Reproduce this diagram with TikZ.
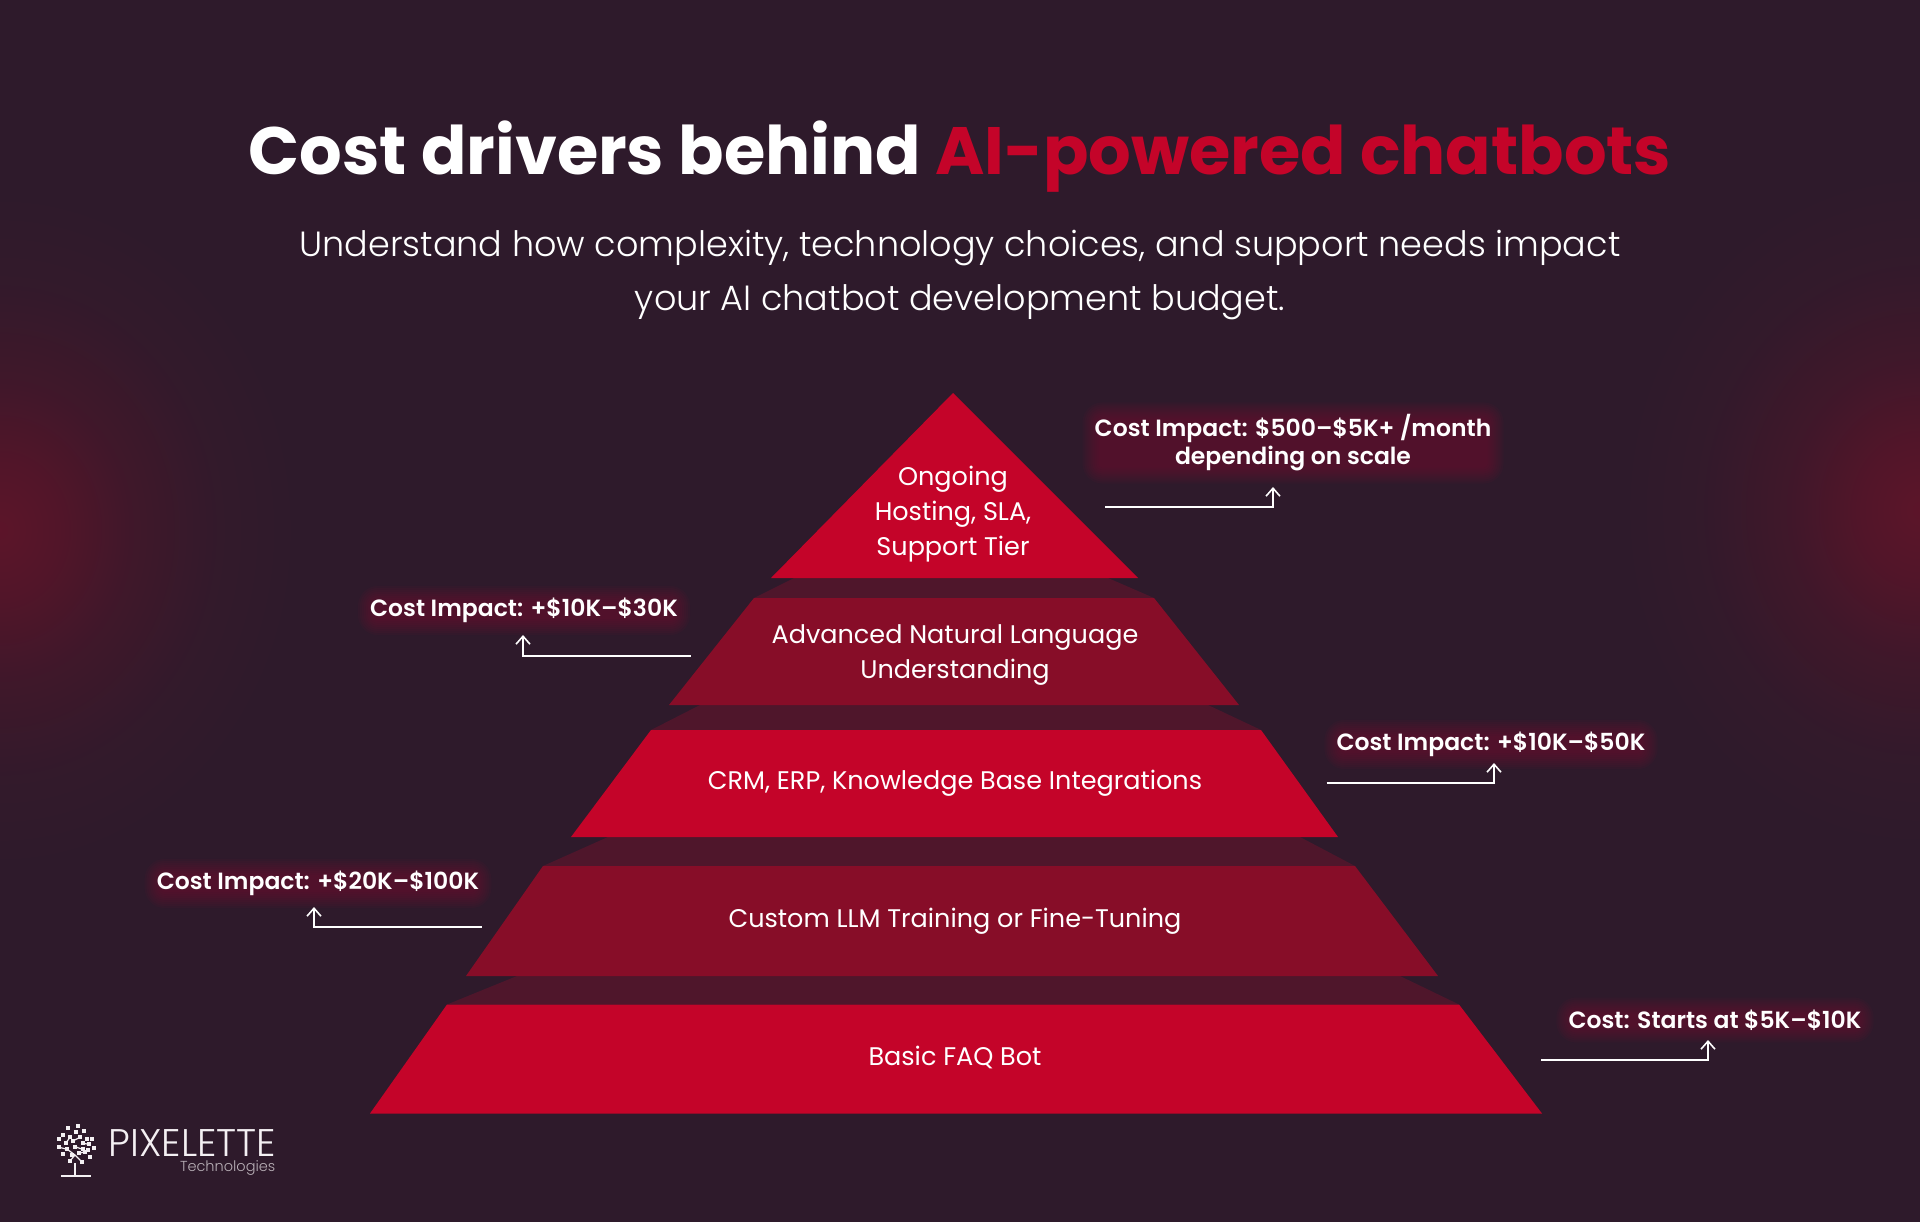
\documentclass[tikz,border=0pt]{standalone}
\usepackage{fontspec}
\setmainfont{Poppins}
\newfontfamily\plight{Poppins Light}
\newfontfamily\psemi{Poppins SemiBold}
\usetikzlibrary{arrows.meta}
\definecolor{bgc}{HTML}{2E1A2B}
\definecolor{tierhi}{HTML}{C40429}
\definecolor{tierlo}{HTML}{870D28}
\definecolor{bandc}{HTML}{4F162B}
\definecolor{glowc}{HTML}{7A0F2E}
\definecolor{logoc}{HTML}{F4F0F3}
\pgfdeclareradialshading{sideglow}{\pgfpoint{0bp}{0bp}}{
  rgb(0bp)=(0.36,0.08,0.16);
  rgb(5bp)=(0.32,0.083,0.16);
  rgb(11bp)=(0.25,0.092,0.165);
  rgb(18bp)=(0.2,0.1,0.168);
  rgb(25bp)=(0.18,0.102,0.169);
  rgb(50bp)=(0.18,0.102,0.169)}
\pgfdeclarelayer{front}
\pgfsetlayers{main,front}
\tikzset{
  tierA/.style={fill=tierhi},
  tierB/.style={fill=tierlo},
  bandS/.style={fill=bandc},
  tiertext/.style={text=white,align=center,inner sep=0pt,font=\fontsize{25.5}{35}\selectfont},
  costtext/.style={text=white,align=center,inner sep=0pt,font=\fontsize{23.5}{28}\psemi},
  conn/.style={draw=white,line width=2pt,-{Straight Barb[length=8pt,width=14pt,line width=1.6pt]}},
}
\newcommand{\glowaround}[1]{%
  \foreach \g in {-4,-2,...,12}{%
    \fill[glowc,opacity=.075,rounded corners=8pt+\g pt]
      ([shift={(-\g,-\g)}]#1.north west) rectangle ([shift={(\g,\g)}]#1.south east);}}
\begin{document}
\begin{tikzpicture}[x=1pt,y=-1pt]
\useasboundingbox (0,0) rectangle (1920,1222);
\fill[bgc] (0,0) rectangle (1920,1222);
\begin{scope}
\clip (0,0) rectangle (1920,1222);
\fill[shading=sideglow] (-300,190) rectangle (300,870);
\fill[shading=sideglow] (1620,170) rectangle (2220,850);
\end{scope}
% shadow bands
\fill[bandS] (794,578) -- (1108,578) -- (1154,598) -- (754,598) -- cycle;
\fill[bandS] (700,705) -- (1208,705) -- (1261,730) -- (651,730) -- cycle;
\fill[bandS] (608,837) -- (1300,837) -- (1355,866) -- (543,866) -- cycle;
\fill[bandS] (517,976) -- (1400,976) -- (1459,1004.5) -- (447,1004.5) -- cycle;
% tiers
\fill[tierA] (953,393) -- (1138,578) -- (771,578) -- cycle;
\fill[tierB] (754,598) -- (1154,598) -- (1239,705) -- (669,705) -- cycle;
\fill[tierA] (651,730) -- (1261,730) -- (1338,837) -- (571,837) -- cycle;
\fill[tierB] (543,866) -- (1355,866) -- (1438,976) -- (466,976) -- cycle;
\fill[tierA] (447,1004.5) -- (1459,1004.5) -- (1542,1113.5) -- (370,1113.5) -- cycle;
\begin{pgfonlayer}{front}
% title
\node[anchor=center,inner sep=0pt,font=\fontsize{67}{75}\selectfont\bfseries,text=white] (title) at (960,157)
  {Cost drivers behind \textcolor{tierhi}{AI-powered chatbots}};
\node[anchor=center,inner sep=0pt,align=center,text=white,font=\fontsize{35}{54}\plight] (subtitle) at (960,275)
  {Understand how complexity, technology choices, and support needs impact\\your AI chatbot development budget.};
% tier labels
\node[tiertext] (t1) at (953,514.5) {Ongoing\\Hosting, SLA,\\Support Tier};
\node[tiertext] (t2) at (955,655) {Advanced Natural Language\\Understanding};
\node[tiertext] (t3) at (955,783.5) {CRM, ERP, Knowledge Base Integrations};
\node[tiertext] (t4) at (955,921) {Custom LLM Training or Fine-Tuning};
\node[tiertext] (t5) at (955,1057) {Basic FAQ Bot};
% cost labels
\node[costtext] (c1) at (1293,443) {Cost Impact: \$500–\$5K+ /month\\depending on scale};
\node[costtext] (c2) at (524,610.5) {Cost Impact: +\$10K–\$30K};
\node[costtext] (c3) at (1491,744.5) {Cost Impact: +\$10K–\$50K};
\node[costtext] (c4) at (318,883.5) {Cost Impact: +\$20K–\$100K};
\node[costtext] (c5) at (1715,1020) {Cost: Starts at \$5K–\$10K};
% logo text
\node[anchor=east,inner sep=0pt,text=logoc,font=\fontsize{38.5}{40}\plight] (brand) at (276.5,1143.5) {PIXELETTE};
\node[anchor=east,inner sep=0pt,text=logoc!70!bgc,font=\fontsize{14.5}{16}\plight] (brandsub) at (275.5,1167.5) {Technologies};
\end{pgfonlayer}
% label glows
\glowaround{c1}\glowaround{c2}\glowaround{c3}\glowaround{c4}\glowaround{c5}
% connectors
\coordinate (a1) at (1105,506.5); \coordinate (b1) at (1273,506.5); \coordinate (e1) at (1273,487);
\coordinate (a2) at (690.5,655.5); \coordinate (b2) at (523,655.5); \coordinate (e2) at (523,635);
\coordinate (a3) at (1326.5,782.5); \coordinate (b3) at (1494,782.5); \coordinate (e3) at (1494,763);
\coordinate (a4) at (481.5,927); \coordinate (b4) at (314,927); \coordinate (e4) at (314,907);
\coordinate (a5) at (1541,1060); \coordinate (b5) at (1708,1060); \coordinate (e5) at (1708,1040);
\foreach \i in {1,...,5}{\draw[conn] (a\i) -- (b\i) -- (e\i);}
% logo mark
\begin{scope}[shift={(30,1100)},x=0.3333pt,y=-0.3333pt]
\draw[logoc,line width=1.2pt] (120,183) -- (135,165) (155,185) -- (135,165) (112,148) -- (135,165) (135,140) -- (158,148)
  (130,122) -- (150,112) (107,130) -- (120,112) (160,130) -- (178,133) (88,142) -- (112,148) (148,160) -- (165,155);
\foreach \dx/\dy in {145/78,115/84,163/94,137/96,98/104,120/112,150/112,88/116,172/118,187/118,107/130,130/122,160/130,178/133,88/142,112/148,135/140,158/148,192/143,175/150,98/163,125/165,148/160,165/155,180/170,120/183,155/185}
  \fill[logoc] (\dx-6,\dy-6) rectangle (\dx+6,\dy+6);
\draw[logoc,line width=2.2pt] (135,190) -- (135,228);
\draw[logoc,line width=2.4pt] (93,228) -- (183,228);
\end{scope}
\end{tikzpicture}
\end{document}
